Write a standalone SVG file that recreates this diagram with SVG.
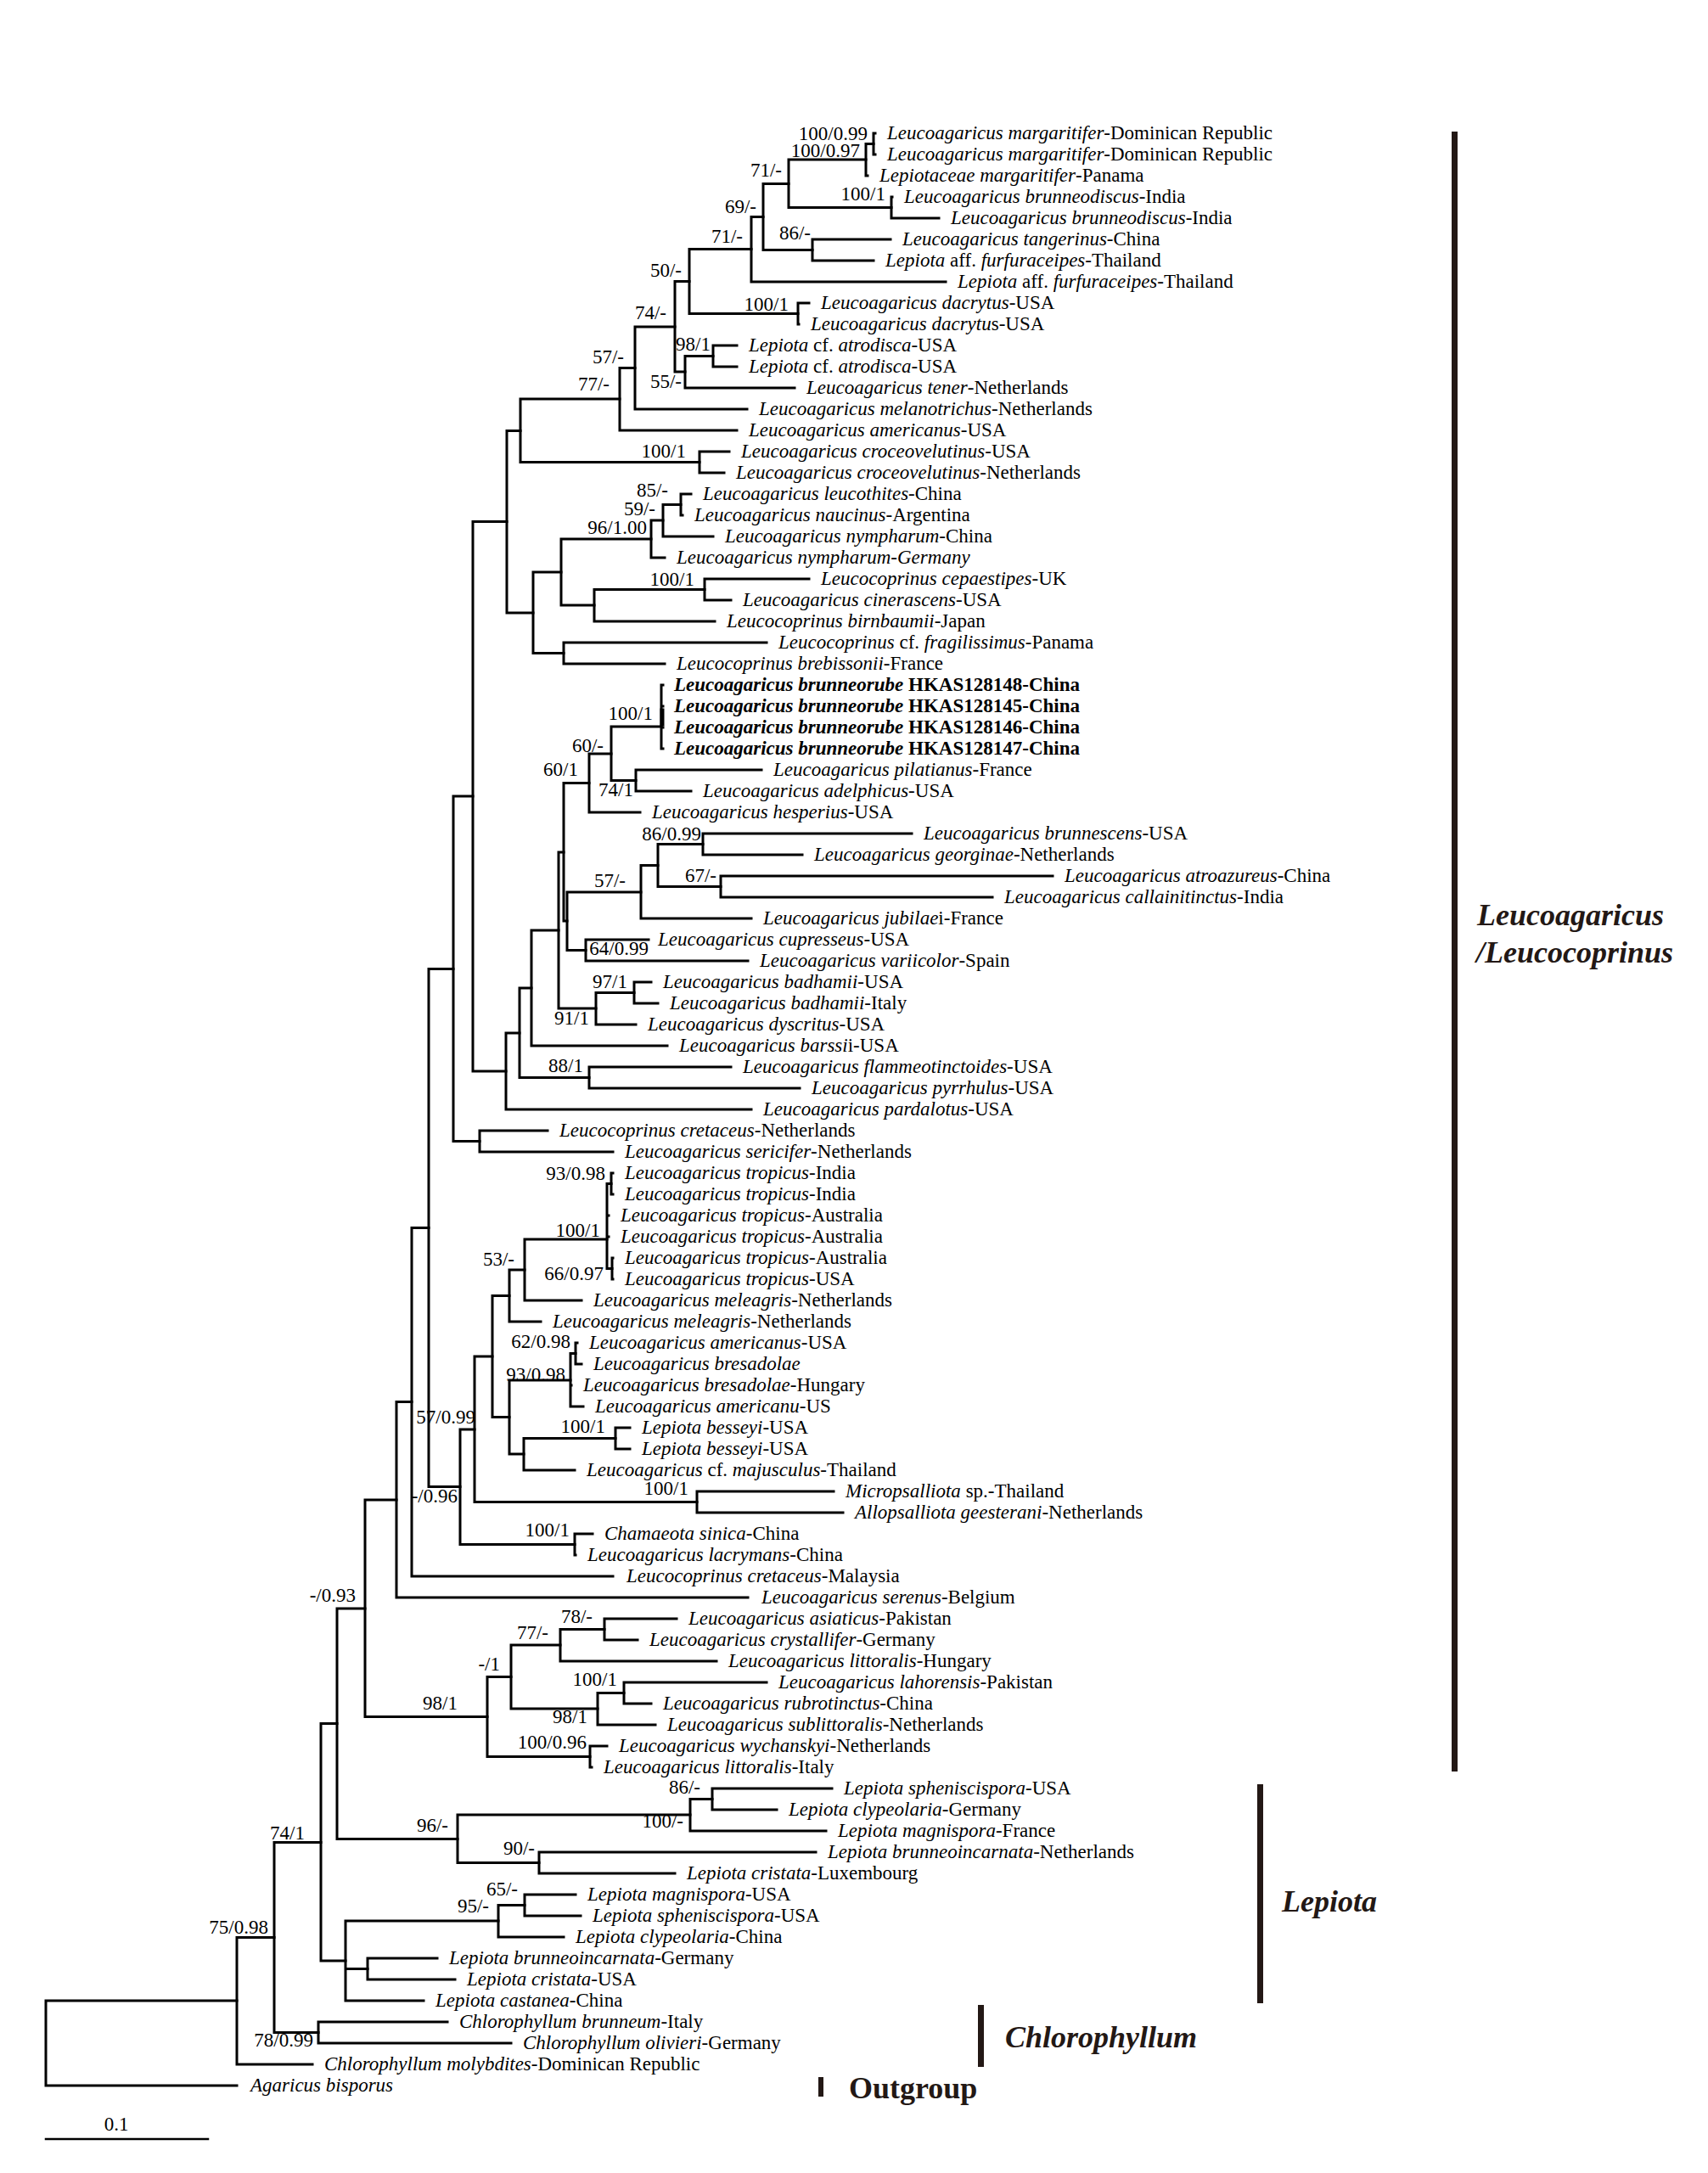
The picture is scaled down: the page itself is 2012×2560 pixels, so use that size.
<svg xmlns="http://www.w3.org/2000/svg" width="2012" height="2560" viewBox="0 0 2012 2560">
<style>
.br{fill:none;stroke:#000;stroke-width:3;stroke-linecap:square}
.t{font-family:"Liberation Serif","Times New Roman",serif;font-size:23px;fill:#000}
.i{font-style:italic}
.bd{font-weight:bold}
.s{font-family:"Liberation Serif","Times New Roman",serif;font-size:23px;fill:#000;text-anchor:end}
.g{font-family:"Liberation Serif","Times New Roman",serif;font-size:36px;font-weight:bold;fill:#231815}
.bar{fill:#231815}
</style>
<rect width="2012" height="2560" fill="#fff"/>
<g id="connectors">
<path class="br" d="M1029 157V182M1029 157H1031M1029 182H1031"/>
<path class="br" d="M1020 169.5V207M1020 169.5H1029M1020 207H1022"/>
<path class="br" d="M1050 232V257M1050 232H1051M1050 257H1106"/>
<path class="br" d="M929 188V244.5M929 188H1020M929 244.5H1050"/>
<path class="br" d="M957 282V307M957 282H1049M957 307H1029"/>
<path class="br" d="M899 216.5V294.5M899 216.5H929M899 294.5H957"/>
<path class="br" d="M885 255.5V332M885 255.5H899M885 332H1114"/>
<path class="br" d="M940 357V382M940 357H953M940 382H941"/>
<path class="br" d="M812 293.5V369.5M812 293.5H885M812 369.5H940"/>
<path class="br" d="M840 407V432M840 407H868M840 432H868"/>
<path class="br" d="M807 419.5V457M807 419.5H840M807 457H936"/>
<path class="br" d="M795 331.5V438M795 331.5H812M795 438H807"/>
<path class="br" d="M748 385V482M748 385H795M748 482H880"/>
<path class="br" d="M730 433.5V507M730 433.5H748M730 507H868"/>
<path class="br" d="M824 532V557M824 532H859M824 557H853"/>
<path class="br" d="M613 470V544.5M613 470H730M613 544.5H824"/>
<path class="br" d="M802 582V607M802 582H814M802 607H804"/>
<path class="br" d="M781 594.5V632M781 594.5H802M781 632H840"/>
<path class="br" d="M767 613V657M767 613H781M767 657H783"/>
<path class="br" d="M830 682V707M830 682H953M830 707H861"/>
<path class="br" d="M700 694.5V732M700 694.5H830M700 732H842"/>
<path class="br" d="M661 635V713M661 635H767M661 713H700"/>
<path class="br" d="M664 757V782M664 757H903M664 782H783"/>
<path class="br" d="M628 674V769.5M628 674H661M628 769.5H664"/>
<path class="br" d="M597 507.5V722M597 507.5H613M597 722H628"/>
<path class="br" d="M779 807V882M779 807H781M779 832H781M779 857H781M779 882H781"/>
<path class="br" style="stroke-width:5" d="M780 837V853"/>
<path class="br" d="M749 907V932M749 907H897M749 932H814"/>
<path class="br" d="M720 856V919.5M720 856H779M720 919.5H749"/>
<path class="br" d="M694 888V957M694 888H720M694 957H754"/>
<path class="br" d="M828 982V1007M828 982H1074M828 1007H945"/>
<path class="br" d="M849 1032V1057M849 1032H1240M849 1057H1169"/>
<path class="br" d="M775 994.5V1044.5M775 994.5H828M775 1044.5H849"/>
<path class="br" d="M755 1019.5V1082M755 1019.5H775M755 1082H885"/>
<path class="br" d="M690 1107V1132M690 1107H764M690 1132H881"/>
<path class="br" d="M668 1051V1119.5M668 1051H755M668 1119.5H690"/>
<path class="br" d="M664 922.5V1085M664 922.5H694M664 1085H668"/>
<path class="br" d="M747 1157V1182M747 1157H767M747 1182H775"/>
<path class="br" d="M702 1169.5V1207M702 1169.5H747M702 1207H749"/>
<path class="br" d="M658 1004V1188M658 1004H664M658 1188H702"/>
<path class="br" d="M626 1096V1232M626 1096H658M626 1232H786"/>
<path class="br" d="M694 1257V1282M694 1257H861M694 1282H942"/>
<path class="br" d="M612 1164V1269.5M612 1164H626M612 1269.5H694"/>
<path class="br" d="M596 1217V1307M596 1217H612M596 1307H885"/>
<path class="br" d="M557 614.5V1262M557 614.5H597M557 1262H596"/>
<path class="br" d="M565 1332V1357M565 1332H645M565 1357H722"/>
<path class="br" d="M534 938V1344.5M534 938H557M534 1344.5H565"/>
<path class="br" d="M720 1382V1407M720 1382H722M720 1407H722"/>
<path class="br" d="M721 1482V1507M721 1482H722M721 1507H722"/>
<path class="br" d="M715 1394.5V1494.5M715 1394.5H720M715 1432H717M715 1457H717M715 1494.5H721"/>
<path class="br" d="M618 1460V1532M618 1460H715M618 1532H685"/>
<path class="br" d="M600 1496V1557M600 1496H618M600 1557H637"/>
<path class="br" d="M678 1582V1607M678 1582H680M678 1607H685"/>
<path class="br" d="M672 1594.5V1657M672 1594.5H678M672 1632H673M672 1657H687"/>
<path class="br" d="M725 1682V1707M725 1682H742M725 1707H742"/>
<path class="br" d="M617 1694.5V1732M617 1694.5H725M617 1732H677"/>
<path class="br" d="M600 1626V1713M600 1626H672M600 1713H617"/>
<path class="br" d="M580 1526.5V1669.5M580 1526.5H600M580 1669.5H600"/>
<path class="br" d="M821 1757V1782M821 1757H982M821 1782H993"/>
<path class="br" d="M559 1598V1769.5M559 1598H580M559 1769.5H821"/>
<path class="br" d="M677 1807V1832M677 1807H698M677 1832H678"/>
<path class="br" d="M542 1684V1819.5M542 1684H559M542 1819.5H677"/>
<path class="br" d="M505 1141.5V1751.5M505 1141.5H534M505 1751.5H542"/>
<path class="br" d="M485 1446.5V1857M485 1446.5H505M485 1857H722"/>
<path class="br" d="M467 1651.5V1882M467 1651.5H485M467 1882H881"/>
<path class="br" d="M712 1907V1932M712 1907H797M712 1932H751"/>
<path class="br" d="M660 1919.5V1957M660 1919.5H712M660 1957H844"/>
<path class="br" d="M735 1982V2007M735 1982H903M735 2007H767"/>
<path class="br" d="M704 1994.5V2032M704 1994.5H735M704 2032H772"/>
<path class="br" d="M602 1938V2013M602 1938H660M602 2013H704"/>
<path class="br" d="M695 2057V2082M695 2057H715M695 2082H697"/>
<path class="br" d="M574 1975.5V2069.5M574 1975.5H602M574 2069.5H695"/>
<path class="br" d="M430 1767V2022.5M430 1767H467M430 2022.5H574"/>
<path class="br" d="M839 2107V2132M839 2107H980M839 2132H915"/>
<path class="br" d="M813 2119.5V2157M813 2119.5H839M813 2157H973"/>
<path class="br" d="M635 2182V2207M635 2182H961M635 2207H795"/>
<path class="br" d="M539 2138V2194.5M539 2138H813M539 2194.5H635"/>
<path class="br" d="M397 1895V2166.5M397 1895H430M397 2166.5H539"/>
<path class="br" d="M618 2232V2257M618 2232H678M618 2257H684"/>
<path class="br" d="M587 2244.5V2282M587 2244.5H618M587 2282H664"/>
<path class="br" d="M433 2307V2332M433 2307H515M433 2332H536"/>
<path class="br" d="M407 2263V2357M407 2263H587M407 2319.5H433M407 2357H499"/>
<path class="br" d="M378 2030.5V2310M378 2030.5H397M378 2310H407"/>
<path class="br" d="M375 2382V2407M375 2382H527M375 2407H602"/>
<path class="br" d="M323 2170.5V2394.5M323 2170.5H378M323 2394.5H375"/>
<path class="br" d="M279 2282.5V2432M279 2282.5H323M279 2432H368"/>
<path class="br" d="M54 2357V2457M54 2357H279M54 2457H279"/>
</g>
<g id="support-values">
<text class="s" x="1022" y="165">100/0.99</text>
<text class="s" x="1013" y="185">100/0.97</text>
<text class="s" x="921" y="208">71/-</text>
<text class="s" x="1043" y="236">100/1</text>
<text class="s" x="891" y="251">69/-</text>
<text class="s" x="955" y="282">86/-</text>
<text class="s" x="875" y="286">71/-</text>
<text class="s" x="803" y="326">50/-</text>
<text class="s" x="929" y="366">100/1</text>
<text class="s" x="785" y="376">74/-</text>
<text class="s" x="837" y="413">98/1</text>
<text class="s" x="735" y="428">57/-</text>
<text class="s" x="803" y="457">55/-</text>
<text class="s" x="718" y="460">77/-</text>
<text class="s" x="808" y="539">100/1</text>
<text class="s" x="787" y="585">85/-</text>
<text class="s" x="772" y="607">59/-</text>
<text class="s" x="762" y="629">96/1.00</text>
<text class="s" x="818" y="690">100/1</text>
<text class="s" x="769" y="848">100/1</text>
<text class="s" x="711" y="886">60/-</text>
<text class="s" x="681" y="914">60/1</text>
<text class="s" x="746" y="938">74/1</text>
<text class="s" x="826" y="990">86/0.99</text>
<text class="s" x="844" y="1039">67/-</text>
<text class="s" x="737" y="1045">57/-</text>
<text class="s" x="764" y="1125">64/0.99</text>
<text class="s" x="739" y="1164">97/1</text>
<text class="s" x="694" y="1207">91/1</text>
<text class="s" x="687" y="1263">88/1</text>
<text class="s" x="713" y="1390">93/0.98</text>
<text class="s" x="707" y="1457">100/1</text>
<text class="s" x="606" y="1491">53/-</text>
<text class="s" x="711" y="1508">66/0.97</text>
<text class="s" x="672" y="1588">62/0.98</text>
<text class="s" x="666" y="1627">93/0.98</text>
<text class="s" x="560" y="1677">57/0.99</text>
<text class="s" x="713" y="1688">100/1</text>
<text class="s" x="539" y="1770">-/0.96</text>
<text class="s" x="811" y="1761">100/1</text>
<text class="s" x="671" y="1810">100/1</text>
<text class="s" x="419" y="1887">-/0.93</text>
<text class="s" x="698" y="1912">78/-</text>
<text class="s" x="646" y="1931">77/-</text>
<text class="s" x="589" y="1968">-/1</text>
<text class="s" x="727" y="1986">100/1</text>
<text class="s" x="539" y="2014">98/1</text>
<text class="s" x="692" y="2030">98/1</text>
<text class="s" x="691" y="2060">100/0.96</text>
<text class="s" x="825" y="2113">86/-</text>
<text class="s" x="805" y="2153">100/-</text>
<text class="s" x="528" y="2158">96/-</text>
<text class="s" x="359" y="2167">74/1</text>
<text class="s" x="630" y="2185">90/-</text>
<text class="s" x="610" y="2233">65/-</text>
<text class="s" x="576" y="2253">95/-</text>
<text class="s" x="316" y="2278">75/0.98</text>
<text class="s" x="369" y="2411">78/0.99</text>
</g>
<g id="leaf-00"><text class="t" x="1045" y="164"><tspan class="i">Leucoagaricus margaritifer</tspan>-Dominican Republic</text></g>
<g id="leaf-01"><text class="t" x="1045" y="189"><tspan class="i">Leucoagaricus margaritifer</tspan>-Dominican Republic</text></g>
<g id="leaf-02"><text class="t" x="1036" y="214"><tspan class="i">Lepiotaceae margaritifer</tspan>-Panama</text></g>
<g id="leaf-03"><text class="t" x="1065" y="239"><tspan class="i">Leucoagaricus brunneodiscus</tspan>-India</text></g>
<g id="leaf-04"><text class="t" x="1120" y="264"><tspan class="i">Leucoagaricus brunneodiscus</tspan>-India</text></g>
<g id="leaf-05"><text class="t" x="1063" y="289"><tspan class="i">Leucoagaricus tangerinus</tspan>-China</text></g>
<g id="leaf-06"><text class="t" x="1043" y="314"><tspan class="i">Lepiota</tspan> aff. <tspan class="i">furfuraceipes</tspan>-Thailand</text></g>
<g id="leaf-07"><text class="t" x="1128" y="339"><tspan class="i">Lepiota</tspan> aff. <tspan class="i">furfuraceipes</tspan>-Thailand</text></g>
<g id="leaf-08"><text class="t" x="967" y="364"><tspan class="i">Leucoagaricus dacrytus</tspan>-USA</text></g>
<g id="leaf-09"><text class="t" x="955" y="389"><tspan class="i">Leucoagaricus dacrytu</tspan>s-USA</text></g>
<g id="leaf-10"><text class="t" x="882" y="414"><tspan class="i">Lepiota</tspan> cf. <tspan class="i">atrodisca</tspan>-USA</text></g>
<g id="leaf-11"><text class="t" x="882" y="439"><tspan class="i">Lepiota</tspan> cf. <tspan class="i">atrodisca</tspan>-USA</text></g>
<g id="leaf-12"><text class="t" x="950" y="464"><tspan class="i">Leucoagaricus tener</tspan>-Netherlands</text></g>
<g id="leaf-13"><text class="t" x="894" y="489"><tspan class="i">Leucoagaricus melanotrichus</tspan>-Netherlands</text></g>
<g id="leaf-14"><text class="t" x="882" y="514"><tspan class="i">Leucoagaricus americanus</tspan>-USA</text></g>
<g id="leaf-15"><text class="t" x="873" y="539"><tspan class="i">Leucoagaricus croceovelutinus</tspan>-USA</text></g>
<g id="leaf-16"><text class="t" x="867" y="564"><tspan class="i">Leucoagaricus croceovelutinus</tspan>-Netherlands</text></g>
<g id="leaf-17"><text class="t" x="828" y="589"><tspan class="i">Leucoagaricus leucothites</tspan>-China</text></g>
<g id="leaf-18"><text class="t" x="818" y="614"><tspan class="i">Leucoagaricus naucinus</tspan>-Argentina</text></g>
<g id="leaf-19"><text class="t" x="854" y="639"><tspan class="i">Leucoagaricus nympharum</tspan>-China</text></g>
<g id="leaf-20"><text class="t i" x="797" y="664">Leucoagaricus nympharum-Germany</text></g>
<g id="leaf-21"><text class="t" x="967" y="689"><tspan class="i">Leucocoprinus cepaestipes</tspan>-UK</text></g>
<g id="leaf-22"><text class="t" x="875" y="714"><tspan class="i">Leucoagaricus cinerascens</tspan>-USA</text></g>
<g id="leaf-23"><text class="t" x="856" y="739"><tspan class="i">Leucocoprinus birnbaumii</tspan>-Japan</text></g>
<g id="leaf-24"><text class="t" x="917" y="764"><tspan class="i">Leucocoprinus</tspan> cf. <tspan class="i">fragilissimus</tspan>-Panama</text></g>
<g id="leaf-25"><text class="t" x="797" y="789"><tspan class="i">Leucocoprinus brebissonii</tspan>-France</text></g>
<g id="leaf-26"><text class="t bd" x="794" y="814"><tspan class="i">Leucoagaricus brunneorube</tspan> HKAS128148-China</text></g>
<g id="leaf-27"><text class="t bd" x="794" y="839"><tspan class="i">Leucoagaricus brunneorube</tspan> HKAS128145-China</text></g>
<g id="leaf-28"><text class="t bd" x="794" y="864"><tspan class="i">Leucoagaricus brunneorube</tspan> HKAS128146-China</text></g>
<g id="leaf-29"><text class="t bd" x="794" y="889"><tspan class="i">Leucoagaricus brunneorube</tspan> HKAS128147-China</text></g>
<g id="leaf-30"><text class="t" x="911" y="914"><tspan class="i">Leucoagaricus pilatianus</tspan>-France</text></g>
<g id="leaf-31"><text class="t" x="828" y="939"><tspan class="i">Leucoagaricus adelphicus</tspan>-USA</text></g>
<g id="leaf-32"><text class="t" x="768" y="964"><tspan class="i">Leucoagaricus hesperius</tspan>-USA</text></g>
<g id="leaf-33"><text class="t" x="1088" y="989"><tspan class="i">Leucoagaricus brunnescens</tspan>-USA</text></g>
<g id="leaf-34"><text class="t" x="959" y="1014"><tspan class="i">Leucoagaricus georginae</tspan>-Netherlands</text></g>
<g id="leaf-35"><text class="t" x="1254" y="1039"><tspan class="i">Leucoagaricus atroazureus</tspan>-China</text></g>
<g id="leaf-36"><text class="t" x="1183" y="1064"><tspan class="i">Leucoagaricus callainitinctus</tspan>-India</text></g>
<g id="leaf-37"><text class="t" x="899" y="1089"><tspan class="i">Leucoagaricus jubilae</tspan>i-France</text></g>
<g id="leaf-38"><text class="t" x="775" y="1114"><tspan class="i">Leucoagaricus cupresseus</tspan>-USA</text></g>
<g id="leaf-39"><text class="t" x="895" y="1139"><tspan class="i">Leucoagaricus variicolor</tspan>-Spain</text></g>
<g id="leaf-40"><text class="t" x="781" y="1164"><tspan class="i">Leucoagaricus badhamii</tspan>-USA</text></g>
<g id="leaf-41"><text class="t" x="789" y="1189"><tspan class="i">Leucoagaricus badhamii</tspan>-Italy</text></g>
<g id="leaf-42"><text class="t" x="763" y="1214"><tspan class="i">Leucoagaricus dyscritus</tspan>-USA</text></g>
<g id="leaf-43"><text class="t" x="800" y="1239"><tspan class="i">Leucoagaricus barssi</tspan>i-USA</text></g>
<g id="leaf-44"><text class="t" x="875" y="1264"><tspan class="i">Leucoagaricus flammeotinctoides</tspan>-USA</text></g>
<g id="leaf-45"><text class="t" x="956" y="1289"><tspan class="i">Leucoagaricus pyrrhulus</tspan>-USA</text></g>
<g id="leaf-46"><text class="t" x="899" y="1314"><tspan class="i">Leucoagaricus pardalotus</tspan>-USA</text></g>
<g id="leaf-47"><text class="t" x="659" y="1339"><tspan class="i">Leucocoprinus cretaceus</tspan>-Netherlands</text></g>
<g id="leaf-48"><text class="t" x="736" y="1364"><tspan class="i">Leucoagaricus sericifer</tspan>-Netherlands</text></g>
<g id="leaf-49"><text class="t" x="736" y="1389"><tspan class="i">Leucoagaricus tropicus</tspan>-India</text></g>
<g id="leaf-50"><text class="t" x="736" y="1414"><tspan class="i">Leucoagaricus tropicus</tspan>-India</text></g>
<g id="leaf-51"><text class="t" x="731" y="1439"><tspan class="i">Leucoagaricus tropicus</tspan>-Australia</text></g>
<g id="leaf-52"><text class="t" x="731" y="1464"><tspan class="i">Leucoagaricus tropicus</tspan>-Australia</text></g>
<g id="leaf-53"><text class="t" x="736" y="1489"><tspan class="i">Leucoagaricus tropicus</tspan>-Australia</text></g>
<g id="leaf-54"><text class="t" x="736" y="1514"><tspan class="i">Leucoagaricus tropicus</tspan>-USA</text></g>
<g id="leaf-55"><text class="t" x="699" y="1539"><tspan class="i">Leucoagaricus meleagris</tspan>-Netherlands</text></g>
<g id="leaf-56"><text class="t" x="651" y="1564"><tspan class="i">Leucoagaricus meleagris</tspan>-Netherlands</text></g>
<g id="leaf-57"><text class="t" x="694" y="1589"><tspan class="i">Leucoagaricus americanus</tspan>-USA</text></g>
<g id="leaf-58"><text class="t i" x="699" y="1614">Leucoagaricus bresadolae</text></g>
<g id="leaf-59"><text class="t" x="687" y="1639"><tspan class="i">Leucoagaricus bresadolae</tspan>-Hungary</text></g>
<g id="leaf-60"><text class="t" x="701" y="1664"><tspan class="i">Leucoagaricus americanu</tspan>-US</text></g>
<g id="leaf-61"><text class="t" x="756" y="1689"><tspan class="i">Lepiota besseyi</tspan>-USA</text></g>
<g id="leaf-62"><text class="t" x="756" y="1714"><tspan class="i">Lepiota besseyi</tspan>-USA</text></g>
<g id="leaf-63"><text class="t" x="691" y="1739"><tspan class="i">Leucoagaricus</tspan> cf. <tspan class="i">majusculus</tspan>-Thailand</text></g>
<g id="leaf-64"><text class="t" x="996" y="1764"><tspan class="i">Micropsalliota</tspan> sp.-Thailand</text></g>
<g id="leaf-65"><text class="t" x="1007" y="1789"><tspan class="i">Allopsalliota geesterani</tspan>-Netherlands</text></g>
<g id="leaf-66"><text class="t" x="712" y="1814"><tspan class="i">Chamaeota sinica</tspan>-China</text></g>
<g id="leaf-67"><text class="t" x="692" y="1839"><tspan class="i">Leucoagaricus lacrymans</tspan>-China</text></g>
<g id="leaf-68"><text class="t" x="738" y="1864"><tspan class="i">Leucocoprinus cretaceus</tspan>-Malaysia</text></g>
<g id="leaf-69"><text class="t" x="897" y="1889"><tspan class="i">Leucoagaricus serenus</tspan>-Belgium</text></g>
<g id="leaf-70"><text class="t" x="811" y="1914"><tspan class="i">Leucoagaricus asiaticus</tspan>-Pakistan</text></g>
<g id="leaf-71"><text class="t" x="765" y="1939"><tspan class="i">Leucoagaricus crystallifer</tspan>-Germany</text></g>
<g id="leaf-72"><text class="t" x="858" y="1964"><tspan class="i">Leucoagaricus littoralis</tspan>-Hungary</text></g>
<g id="leaf-73"><text class="t" x="917" y="1989"><tspan class="i">Leucoagaricus lahorensis</tspan>-Pakistan</text></g>
<g id="leaf-74"><text class="t" x="781" y="2014"><tspan class="i">Leucoagaricus rubrotinctus</tspan>-China</text></g>
<g id="leaf-75"><text class="t" x="786" y="2039"><tspan class="i">Leucoagaricus sublittoralis</tspan>-Netherlands</text></g>
<g id="leaf-76"><text class="t" x="729" y="2064"><tspan class="i">Leucoagaricus wychanskyi</tspan>-Netherlands</text></g>
<g id="leaf-77"><text class="t" x="711" y="2089"><tspan class="i">Leucoagaricus littoralis</tspan>-Italy</text></g>
<g id="leaf-78"><text class="t" x="994" y="2114"><tspan class="i">Lepiota spheniscispora</tspan>-USA</text></g>
<g id="leaf-79"><text class="t" x="929" y="2139"><tspan class="i">Lepiota clypeolaria</tspan>-Germany</text></g>
<g id="leaf-80"><text class="t" x="987" y="2164"><tspan class="i">Lepiota magnispora</tspan>-France</text></g>
<g id="leaf-81"><text class="t" x="975" y="2189"><tspan class="i">Lepiota brunneoincarnata</tspan>-Netherlands</text></g>
<g id="leaf-82"><text class="t" x="809" y="2214"><tspan class="i">Lepiota cristata</tspan>-Luxembourg</text></g>
<g id="leaf-83"><text class="t" x="692" y="2239"><tspan class="i">Lepiota magnispora</tspan>-USA</text></g>
<g id="leaf-84"><text class="t" x="698" y="2264"><tspan class="i">Lepiota spheniscispora</tspan>-USA</text></g>
<g id="leaf-85"><text class="t" x="678" y="2289"><tspan class="i">Lepiota clypeolaria</tspan>-China</text></g>
<g id="leaf-86"><text class="t" x="529" y="2314"><tspan class="i">Lepiota brunneoincarnata</tspan>-Germany</text></g>
<g id="leaf-87"><text class="t" x="550" y="2339"><tspan class="i">Lepiota cristata</tspan>-USA</text></g>
<g id="leaf-88"><text class="t" x="513" y="2364"><tspan class="i">Lepiota castanea</tspan>-China</text></g>
<g id="leaf-89"><text class="t" x="541" y="2389"><tspan class="i">Chlorophyllum brunneum</tspan>-Italy</text></g>
<g id="leaf-90"><text class="t" x="616" y="2414"><tspan class="i">Chlorophyllum olivieri</tspan>-Germany</text></g>
<g id="leaf-91"><text class="t" x="382" y="2439"><tspan class="i">Chlorophyllum molybdites</tspan>-Dominican Republic</text></g>
<g id="leaf-92"><text class="t i" x="295" y="2464">Agaricus bisporus</text></g>
<g id="clade-leucoagaricus">
<rect class="bar" x="1710" y="155" width="7" height="1932"/>
<text class="g i" x="1740" y="1090">Leucoagaricus</text>
<text class="g i" x="1739" y="1134">/Leucocoprinus</text>
</g>
<g id="clade-lepiota">
<rect class="bar" x="1481" y="2102" width="7" height="258"/>
<text class="g i" x="1510" y="2252">Lepiota</text>
</g>
<g id="clade-chlorophyllum">
<rect class="bar" x="1152" y="2362" width="7" height="73"/>
<text class="g i" x="1184" y="2412">Chlorophyllum</text>
</g>
<g id="clade-outgroup">
<rect class="bar" x="964" y="2447" width="6" height="23"/>
<text class="g" x="1000" y="2472">Outgroup</text>
</g>
<g id="scale-bar">
<path class="br" style="stroke-width:2.5" d="M54 2520H245"/>
<text class="t" x="137" y="2510" text-anchor="middle" font-size="22">0.1</text>
</g>
</svg>
